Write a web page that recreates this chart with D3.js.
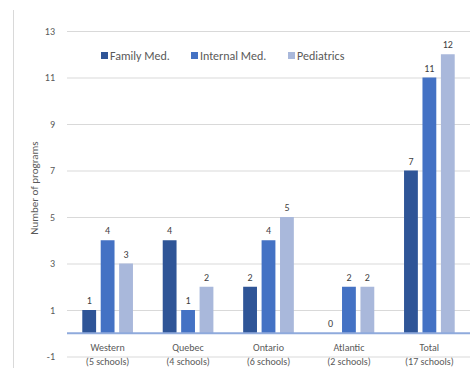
<!DOCTYPE html>
<html>
<head>
<meta charset="utf-8">
<script src="https://cdn.jsdelivr.net/npm/d3@7"></script>
<style>
  html, body { margin: 0; padding: 0; background: #fff; }
  svg { display: block; font-family: Carlito, Lato, "Liberation Sans", sans-serif; }
</style>
</head>
<body>
<svg id="chart" width="473" height="368"></svg>
<script>
// Program counts by region and specialty
const regions = ["Western", "Quebec", "Ontario", "Atlantic", "Total"];
const schoolNotes = ["(5 schools)", "(4 schools)", "(6 schools)", "(2 schools)", "(17 schools)"];
const specialties = ["Family Med.", "Internal Med.", "Pediatrics"];
const familyMed = [1, 4, 2, 0, 7];
const internalMed = [4, 1, 4, 2, 11];
const pediatrics = [3, 2, 5, 2, 12];
const yTicks = [-1, 1, 3, 5, 7, 9, 11, 13];
const colors = ["#2F5597", "#4472C4", "#A9B8DB"];

const seriesValues = [familyMed, internalMed, pediatrics];
const rows = regions.map((r, i) => ({
  region: r,
  note: schoolNotes[i],
  values: specialties.map((s, k) => ({ key: s, value: seriesValues[k][i], color: colors[k] }))
}));

const svg = d3.select("#chart");
const plot = { left: 67, right: 470, top: 31, bottom: 356.5 };

const y = d3.scaleLinear().domain([-1, 13]).range([plot.bottom, plot.top]);
const x0 = d3.scaleBand().domain(regions).range([plot.left, plot.right]).paddingInner(0.37).paddingOuter(0.19);
const x1 = d3.scaleBand().domain(specialties).range([0, x0.bandwidth()]).paddingInner(0.25);

// Outer frame line on the left
svg.append("line")
  .attr("x1", 13.5).attr("x2", 13.5).attr("y1", 10).attr("y2", 368)
  .attr("stroke", "#d9d9d9").attr("stroke-width", 1);

// Gridlines and tick labels
const yAxis = d3.axisLeft(y).tickValues(yTicks).tickFormat(d => String(d))
  .tickSize(-(plot.right - plot.left)).tickPadding(12);
const gy = svg.append("g").attr("transform", `translate(${plot.left},0)`).call(yAxis);
gy.select(".domain").remove();
gy.selectAll(".tick line").attr("stroke", "#d9d9d9").attr("stroke-width", 1);
gy.selectAll(".tick text")
  .attr("fill", "#595959").attr("font-size", 10)
  .style("font-family", "Carlito, Lato, 'Liberation Sans', sans-serif");

// Bars
const groups = svg.append("g").selectAll("g").data(rows).join("g")
  .attr("transform", d => `translate(${x0(d.region)},0)`);

groups.selectAll("rect").data(d => d.values).join("rect")
  .attr("x", d => x1(d.key))
  .attr("width", x1.bandwidth())
  .attr("y", d => y(Math.max(0, d.value)))
  .attr("height", d => Math.abs(y(d.value) - y(0)))
  .attr("fill", d => d.color);

// Value labels
groups.selectAll("text.val").data(d => d.values).join("text")
  .attr("class", "val")
  .attr("x", d => x1(d.key) + x1.bandwidth() / 2)
  .attr("y", d => y(d.value) - 6)
  .attr("text-anchor", "middle")
  .attr("font-size", 10)
  .attr("fill", "#404040")
  .text(d => d.value);

// Zero baseline
svg.append("line")
  .attr("x1", plot.left).attr("x2", plot.right)
  .attr("y1", y(0)).attr("y2", y(0))
  .attr("stroke", "#8FAADC").attr("stroke-width", 2);

// Category labels (two lines)
const cat = svg.append("g").selectAll("text").data(rows).join("text")
  .attr("x", d => x0(d.region) + x0.bandwidth() / 2)
  .attr("text-anchor", "middle")
  .attr("font-size", 10)
  .attr("fill", "#595959");
cat.append("tspan").attr("x", d => x0(d.region) + x0.bandwidth() / 2).attr("y", 351).text(d => d.region);
cat.append("tspan").attr("x", d => x0(d.region) + x0.bandwidth() / 2).attr("y", 365).text(d => d.note);

// Axis title
svg.append("text")
  .attr("transform", "translate(38,188) rotate(-90)")
  .attr("text-anchor", "middle")
  .attr("font-size", 11)
  .attr("fill", "#595959")
  .text("Number of programs");

// Legend
const legendX = [101, 191, 288];
const legend = svg.append("g").selectAll("g").data(specialties).join("g")
  .attr("transform", (d, i) => `translate(${legendX[i]},56)`);
legend.append("rect").attr("x", 0).attr("y", -4).attr("width", 7).attr("height", 7)
  .attr("fill", (d, i) => colors[i]);
legend.append("text").attr("x", 9).attr("y", 4)
  .attr("font-size", 12).attr("fill", "#595959").text(d => d);
</script>
</body>
</html>
